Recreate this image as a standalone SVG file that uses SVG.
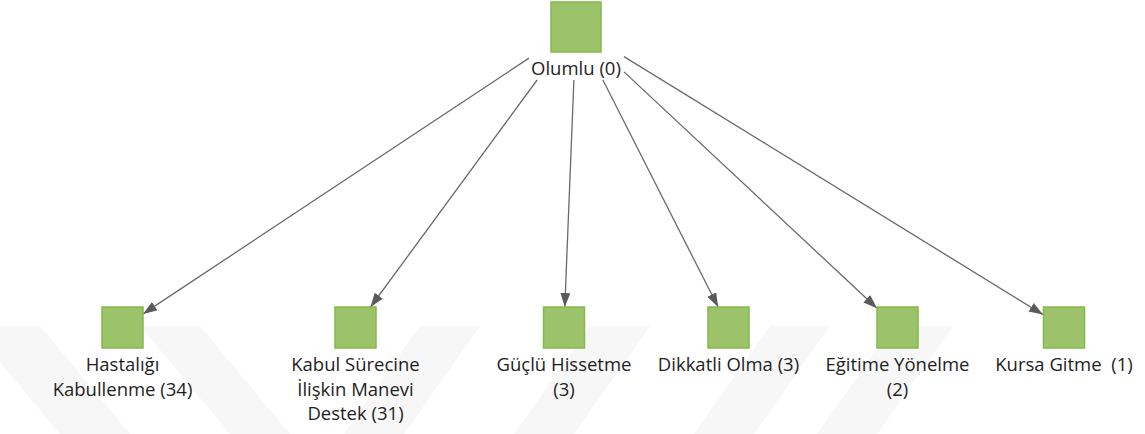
<svg xmlns="http://www.w3.org/2000/svg" width="1145" height="434" viewBox="0 0 1145 434">
  <style>
    .node { fill: #9cc26a; stroke: #84b94c; stroke-width: 1.5; }
    .label { font-family: "Open Sans", "Noto Sans", sans-serif; font-size: 18.5px; fill: #1e1e1e; text-anchor: middle; }
    .edge { stroke: #6a6a6a; stroke-width: 1.3; fill: none; marker-end: url(#arrow); }
    .band { fill: #f7f7f7; }
  </style>
  <defs>
    <marker id="arrow" viewBox="0 0 14 10" refX="14" refY="5" markerWidth="14" markerHeight="10" markerUnits="userSpaceOnUse" orient="auto">
      <path d="M0,0 L14,5 L0,10 Z" fill="#5a5a5a"/>
    </marker>
  </defs>
  <rect width="1145" height="434" fill="#ffffff"/>

  <!-- faint background bands -->
  <g id="background">
    <polygon class="band" points="0,326 40,326 130,434 60,434 0,362"/>
    <polygon class="band" points="140,326 200,326 290,434 230,434"/>
    <polygon class="band" points="420,326 480,326 404,434 344,434"/>
    <polygon class="band" points="590,326 650,326 574,434 514,434"/>
    <polygon class="band" points="770,326 830,326 754,434 694,434"/>
    <polygon class="band" points="893,326 953,326 877,434 817,434"/>
  </g>

  <g id="connectors">
    <line class="edge" x1="529" y1="58.1" x2="143" y2="313.9"/>
    <line class="edge" x1="537.1" y1="80" x2="370.5" y2="307"/>
    <line class="edge" x1="573.9" y1="80" x2="564.8" y2="307"/>
    <line class="edge" x1="602.9" y1="80" x2="718.1" y2="307"/>
    <line class="edge" x1="624" y1="71.9" x2="877" y2="308.3"/>
    <line class="edge" x1="624" y1="56.6" x2="1043" y2="314.6"/>
  </g>

  <g id="olumlu">
    <rect class="node" x="551" y="2" width="50" height="50"/>
    <text class="label" x="576" y="75">Olumlu (0)</text>
  </g>

  <g id="hastaligi-kabullenme">
    <rect class="node" x="102" y="307" width="41" height="41"/>
    <text class="label" x="122.5" y="371">Hastalığı</text>
    <text class="label" x="122.5" y="395.5">Kabullenme (34)</text>
  </g>

  <g id="kabul-surecine">
    <rect class="node" x="335" y="307" width="41" height="41"/>
    <text class="label" x="355.5" y="371">Kabul Sürecine</text>
    <text class="label" x="355.5" y="395.5">İlişkin Manevi</text>
    <text class="label" x="355.5" y="420">Destek (31)</text>
  </g>

  <g id="guclu-hissetme">
    <rect class="node" x="543.5" y="307" width="41" height="41"/>
    <text class="label" x="564" y="371">Güçlü Hissetme</text>
    <text class="label" x="564" y="395.5">(3)</text>
  </g>

  <g id="dikkatli-olma">
    <rect class="node" x="708" y="307" width="41" height="41"/>
    <text class="label" x="728.5" y="371">Dikkatli Olma (3)</text>
  </g>

  <g id="egitime-yonelme">
    <rect class="node" x="877" y="307" width="41" height="41"/>
    <text class="label" x="897.5" y="371">Eğitime Yönelme</text>
    <text class="label" x="897.5" y="395.5">(2)</text>
  </g>

  <g id="kursa-gitme">
    <rect class="node" x="1043.5" y="307" width="41" height="41"/>
    <text class="label" x="1064" y="371" xml:space="preserve">Kursa Gitme  (1)</text>
  </g>
</svg>
